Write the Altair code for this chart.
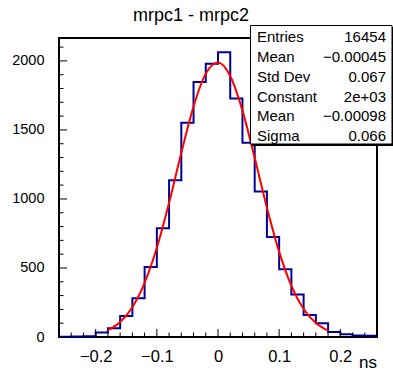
import altair as alt
import pandas as pd

# ---------------- data ----------------
bin_lo = [-0.26, -0.24, -0.22, -0.20, -0.18, -0.16, -0.14, -0.12, -0.10, -0.08,
          -0.06, -0.04, -0.02, 0.00, 0.02, 0.04, 0.06, 0.08, 0.10, 0.12,
          0.14, 0.16, 0.18, 0.20, 0.22, 0.24]
bin_hi_last = 0.26
counts = [2, 3, 5, 33, 63, 152, 281, 507, 788, 1136,
          1552, 1848, 1980, 2063, 1727, 1407, 1054, 724, 491, 308,
          159, 99, 36, 20, 10, 9]

fit_x = [-0.18, -0.16, -0.14, -0.12, -0.10, -0.08, -0.06, -0.04, -0.02, 0.0,
         0.02, 0.04, 0.06, 0.08, 0.10, 0.12, 0.14, 0.16, 0.18]
fit_y = [50, 109, 216, 392, 646, 972, 1334, 1670, 1908, 1989,
         1891, 1640, 1298, 937, 617, 371, 203, 101, 46]

stat_labels = ["Entries", "Mean", "Std Dev", "Constant", "Mean", "Sigma"]
stat_values = ["16454", "\u22120.00045", "0.067", "2e+03", "\u22120.00098", "0.066"]

title_text = "mrpc1 - mrpc2"
x_title = "ns"

x_major = [-0.2, -0.1, 0.0, 0.1, 0.2]
x_minor = [-0.26, -0.24, -0.22, -0.18, -0.16, -0.14, -0.12, -0.08, -0.06, -0.04,
           -0.02, 0.02, 0.04, 0.06, 0.08, 0.12, 0.14, 0.16, 0.18, 0.22, 0.24, 0.26]
y_major = [0, 500, 1000, 1500, 2000]
y_minor = [100, 200, 300, 400, 600, 700, 800, 900, 1100, 1200, 1300, 1400,
           1600, 1700, 1800, 1900, 2100]

# ---------------- layout ----------------
W, H = 318, 299
FONT = "Liberation Sans"
xs = alt.Scale(domain=[-0.26, 0.26], nice=False, zero=False)
ys = alt.Scale(domain=[0, 2166], nice=False, zero=False)

hist_df = pd.DataFrame({"x": bin_lo + [bin_hi_last], "n": counts + [counts[-1]]})
fit_df = pd.DataFrame({"x": fit_x, "y": fit_y})

x_axis = alt.Axis(values=x_major, ticks=False, domain=False, grid=False, title=None,
                  labelFont=FONT, labelFontSize=16.5, labelColor="black", labelPadding=11,
                  labelExpr="datum.value == 0 ? '0' : format(datum.value, '.1f')")
y_axis = alt.Axis(values=y_major, ticks=False, domain=False, grid=False, title=None,
                  labelFont=FONT, labelFontSize=14.5, labelColor="black", labelPadding=15,
                  format="d")

hist = alt.Chart(hist_df).mark_line(interpolate="step-after", color="#000099",
                                    strokeWidth=2).encode(
    x=alt.X("x:Q", scale=xs, axis=x_axis),
    y=alt.Y("n:Q", scale=ys, axis=y_axis),
)

fit = alt.Chart(fit_df).mark_line(interpolate="monotone", color="#ff0000",
                                  strokeWidth=2).encode(
    x=alt.X("x:Q", scale=xs),
    y=alt.Y("y:Q", scale=ys),
)

def xticks(vals, length):
    return alt.Chart(pd.DataFrame({"v": vals})).mark_rule(color="black", strokeWidth=1).encode(
        x=alt.X("v:Q", scale=xs), y=alt.value(H), y2=alt.value(H - length))

def yticks(vals, length):
    return alt.Chart(pd.DataFrame({"v": vals})).mark_rule(color="black", strokeWidth=1).encode(
        y=alt.Y("v:Q", scale=ys), x=alt.value(0), x2=alt.value(length))

one = pd.DataFrame({"a": [0]})

title = alt.Chart(one).mark_text(text=title_text, font=FONT, fontSize=18, color="black",
                                 align="center", baseline="alphabetic").encode(
    x=alt.value(132), y=alt.value(-17))

xlab = alt.Chart(one).mark_text(text=x_title, font=FONT, fontSize=17, color="black",
                                align="right", baseline="alphabetic").encode(
    x=alt.value(W), y=alt.value(H + 31))

shadow = alt.Chart(one).mark_rect(fill="black").encode(
    x=alt.value(193), x2=alt.value(336), y=alt.value(-11), y2=alt.value(108))
box = alt.Chart(one).mark_rect(fill="white", stroke="black", strokeWidth=1).encode(
    x=alt.value(191.5), x2=alt.value(333), y=alt.value(-12.5), y2=alt.value(106))

stats_l = alt.Chart(one).mark_text(text="\n".join(stat_labels), lineBreak="\n",
                                   lineHeight=19.86, font=FONT, fontSize=15, color="black",
                                   align="left", baseline="top").encode(
    x=alt.value(198), y=alt.value(-8))
stats_v = alt.Chart(one).mark_text(text="\n".join(stat_values), lineBreak="\n",
                                   lineHeight=19.86, font=FONT, fontSize=15, color="black",
                                   align="right", baseline="top").encode(
    x=alt.value(327), y=alt.value(-8))

chart = alt.layer(
    hist, fit,
    xticks(x_major, 8), xticks(x_minor, 4.5),
    yticks(y_major, 8), yticks(y_minor, 4.5),
    shadow, box, stats_l, stats_v, title, xlab,
).properties(
    width=W, height=H,
    autosize=alt.AutoSizeParams(type="none"),
    padding={"left": 59, "top": 38, "right": 16, "bottom": 34},
).configure(
    background="white",
    view=alt.ViewConfig(stroke="black", strokeWidth=2, fill="white"),
)

chart.save("out.html", embed_options={"renderer": "svg", "actions": False})
